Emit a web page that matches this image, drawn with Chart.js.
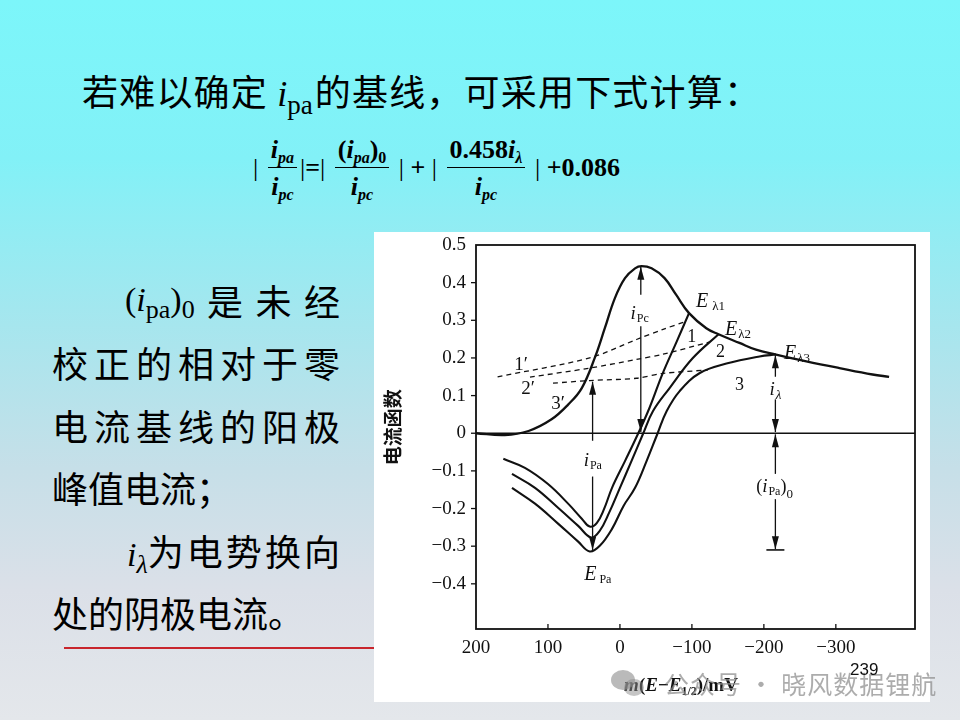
<!DOCTYPE html>
<html><head><meta charset="utf-8">
<script src="https://cdn.jsdelivr.net/npm/chart.js@4.4.1/dist/chart.umd.min.js"></script>
<style>
html,body{margin:0;padding:0;}
#slide{position:relative;width:960px;height:720px;overflow:hidden;
 background:linear-gradient(to bottom,#7cf6fa 0%,#82f1f7 22%,#a6e6ee 45%,#c6dfe8 65%,#dbe0e8 82%,#e4e7eb 100%);
 font-family:"Noto Sans CJK SC","Noto Sans",sans-serif;color:#000;}
.serif{font-family:"Liberation Serif","DejaVu Serif",serif;}
.title{position:absolute;left:82px;top:70px;font-size:36px;line-height:40px;letter-spacing:1.2px;white-space:nowrap;}
.title .iv{font-family:"Liberation Serif",serif;font-style:italic;font-size:36px;letter-spacing:0;}
.title .sb{font-family:"Liberation Serif",serif;font-size:27px;position:relative;top:8px;letter-spacing:0;margin-right:2px;}
#formula{position:absolute;left:253px;top:131px;height:74px;display:flex;align-items:center;
 font-family:"Liberation Serif",serif;font-weight:bold;font-size:26px;white-space:nowrap;}
#formula .frac{display:inline-flex;flex-direction:column;align-items:center;margin:0 3px;}
#formula .num{padding:0 3px 2px 3px;border-bottom:1.6px solid #000;line-height:31px;}
#formula .den{padding-top:3px;line-height:31px;}
#formula i{font-style:italic;}
#formula sub{font-size:16px;font-style:italic;vertical-align:-5px;line-height:0;}
#formula sub.n{font-style:normal;}
#formula .vb{font-weight:normal;}
.ln{position:absolute;left:52px;width:288px;font-size:36px;line-height:44px;white-space:nowrap;display:flex;justify-content:space-between;}
.ln.nj{justify-content:flex-start;}
.ln .s{font-family:"Liberation Serif",serif;font-size:34px;}
.ln .s i{font-style:italic;}
.ln .s .sb{font-size:26px;position:relative;top:7px;}
#redline{position:absolute;left:64px;top:647px;width:310px;height:1.6px;background:#c8252c;}
#chartbox{position:absolute;left:374px;top:232px;width:556px;height:470px;background:#fff;}
#wm{position:absolute;left:0;top:0;width:960px;height:720px;pointer-events:none;}
#wm .ic1{position:absolute;left:611px;top:670px;width:24px;height:20px;border-radius:50%;background:rgba(140,140,140,0.6);}
#wm .ic2{position:absolute;left:624px;top:679px;width:20px;height:17px;border-radius:50%;background:rgba(140,140,140,0.5);}
#wm .tx{position:absolute;left:664px;top:667px;font-size:25px;line-height:32px;color:rgba(140,140,140,0.72);white-space:nowrap;letter-spacing:1px;}
#pg{position:absolute;left:850px;top:660px;font-family:"Liberation Sans",Arial,sans-serif;font-size:17px;line-height:20px;color:#111;}
</style></head>
<body>
<div id="slide">
 <div class="title">若难以确定 <span class="iv">i</span><span class="sb">pa</span>的基线，可采用下式计算：</div>
 <div id="formula">
  <span class="vb">|&nbsp;</span>
  <span class="frac"><span class="num"><i>i</i><sub>pa</sub></span><span class="den"><i>i</i><sub>pc</sub></span></span>
  <span><span class="vb">|</span>=<span class="vb">|</span>&nbsp;</span>
  <span class="frac"><span class="num">(<i>i</i><sub>pa</sub>)<sub class="n">0</sub></span><span class="den"><i>i</i><sub>pc</sub></span></span>
  <span>&nbsp;<span class="vb">|</span> + <span class="vb">|</span>&nbsp;</span>
  <span class="frac"><span class="num">0.458<i>i</i><sub>λ</sub></span><span class="den"><i>i</i><sub>pc</sub></span></span>
  <span>&nbsp;<span class="vb">|</span> +0.086</span>
 </div>

 <div class="ln" style="top:278px;padding-left:73px;width:215px;"><span class="s">(<i>i</i><span class="sb">pa</span>)<span class="sb">0</span></span><span>是</span><span>未</span><span>经</span></div>
 <div class="ln" style="top:340px;"><span>校</span><span>正</span><span>的</span><span>相</span><span>对</span><span>于</span><span>零</span></div>
 <div class="ln" style="top:403px;"><span>电</span><span>流</span><span>基</span><span>线</span><span>的</span><span>阳</span><span>极</span></div>
 <div class="ln nj" style="top:465px;"><span>峰值电流；</span></div>
 <div class="ln" style="top:528px;padding-left:75px;width:213px;"><span><span class="s"><i>i</i><span class="sb"><i>λ</i></span></span>为</span><span>电</span><span>势</span><span>换</span><span>向</span></div>
 <div class="ln nj" style="top:590px;"><span>处的阴极电流。</span></div>
 <div id="redline"></div>

 <div id="chartbox"><canvas id="c" width="556" height="470"></canvas></div>
 <div id="wm"><div class="ic1"></div><div class="ic2"></div><div class="tx">公众号 · 晓风数据锂航</div></div>
 <div id="pg">239</div>
</div>
<script>
// ---- tick values ----
const xTicks = [200, 100, 0, -100, -200, -300];
const yTicks = [0.5, 0.4, 0.3, 0.2, 0.1, 0, -0.1, -0.2, -0.3, -0.4];

// ---- cathodic (forward) curve ----
const mainE = [200, 160, 127, 95, 72, 53, 35, 21, 7, -7, -21, -30, -44, -62, -78, -96, -120, -137, -166, -189, -217, -259, -305, -351, -374];
const mainI = [0, -0.005, 0.006, 0.037, 0.076, 0.12, 0.2, 0.279, 0.359, 0.412, 0.438, 0.444, 0.438, 0.412, 0.368, 0.319, 0.279, 0.263, 0.24, 0.222, 0.209, 0.191, 0.173, 0.156, 0.15];

// ---- anodic (reverse) curves 1,2,3 ----
const rev1E = [162, 132, 100, 72, 53, 42, 32, 22, 11, -7, -25, -41, -59, -79, -96];
const rev1I = [-0.068, -0.092, -0.135, -0.187, -0.227, -0.248, -0.238, -0.201, -0.145, -0.074, -0.002, 0.067, 0.157, 0.244, 0.319];
const rev2E = [150, 118, 86, 58, 40, 28, 15, 0, -16, -32, -46, -69, -101, -137];
const rev2I = [-0.108, -0.145, -0.198, -0.246, -0.277, -0.259, -0.211, -0.145, -0.074, -0.002, 0.059, 0.12, 0.199, 0.263];
const rev3E = [150, 118, 86, 58, 42, 28, 11, -5, -21, -37, -52, -65, -83, -111, -148, -194, -217];
const rev3I = [-0.145, -0.187, -0.24, -0.288, -0.314, -0.299, -0.254, -0.193, -0.145, -0.074, -0.002, 0.059, 0.112, 0.16, 0.185, 0.204, 0.209];

// ---- extrapolated baselines 1',2',3' ----
const base1E = [170, 42, -23, -60, -90];
const base1I = [0.15, 0.2, 0.249, 0.276, 0.296];
const base2E = [125, 42, -23, -60, -124];
const base2I = [0.149, 0.173, 0.196, 0.21, 0.242];
const base3E = [93, 42, -23, -60, -122];
const base3I = [0.133, 0.14, 0.146, 0.159, 0.168];

const pts = (E, I) => E.map((e, k) => ({x: e, y: I[k]}));
const fmtY = v => v === 0 ? '0' : (v < 0 ? '\u2212' + (-v).toFixed(1) : v.toFixed(1));
const fmtX = v => v < 0 ? '\u2212' + (-v) : String(v);

const INK = '#111';
const solid = (d, w) => ({data: d, showLine: true, borderColor: INK, borderWidth: w, pointRadius: 0, tension: 0.4, fill: false});
const dashed = d => ({data: d, showLine: true, borderColor: INK, borderWidth: 1.3, borderDash: [5, 4], pointRadius: 0, tension: 0.3, fill: false});

const SERIF = '"Liberation Serif", "DejaVu Serif", serif';
function rich(ctx, parts, cx, by) {
  let w = 0;
  parts.forEach(p => { ctx.font = p.f; p.w = ctx.measureText(p.t).width; w += p.w + (p.g || 0); });
  let x = cx - w / 2;
  ctx.textBaseline = 'alphabetic'; ctx.textAlign = 'left';
  parts.forEach(p => { ctx.font = p.f; ctx.fillText(p.t, x, by + (p.dy || 0)); x += p.w + (p.g || 0); });
}
const I18 = 'italic 19px ' + SERIF, I20 = 'italic 20px ' + SERIF, S12 = '12px ' + SERIF, S13 = '13px ' + SERIF, N18 = '18px ' + SERIF;

const overlay = {
  id: 'overlay',
  afterDatasetsDraw(chart) {
    const {ctx, chartArea: a, scales: {x, y}} = chart;
    ctx.save();
    ctx.strokeStyle = INK; ctx.fillStyle = INK;
    // frame
    ctx.lineWidth = 1.8;
    ctx.strokeRect(a.left, a.top, a.right - a.left, a.bottom - a.top);
    // zero line
    ctx.lineWidth = 1.5;
    ctx.beginPath(); ctx.moveTo(a.left, y.getPixelForValue(0)); ctx.lineTo(a.right, y.getPixelForValue(0)); ctx.stroke();
    // ticks
    ctx.lineWidth = 1.3;
    xTicks.slice(1).forEach(v => { const px = x.getPixelForValue(v); ctx.beginPath(); ctx.moveTo(px, a.bottom); ctx.lineTo(px, a.bottom - 5); ctx.stroke(); });
    yTicks.slice(1).forEach(v => { const py = y.getPixelForValue(v); ctx.beginPath(); ctx.moveTo(a.left - 5, py); ctx.lineTo(a.left, py); ctx.stroke(); });

    // arrows
    const arrow = (xv, y1, y2, head) => {
      const px = x.getPixelForValue(xv), p1 = y.getPixelForValue(y1), p2 = y.getPixelForValue(y2);
      ctx.lineWidth = 1.3;
      ctx.beginPath(); ctx.moveTo(px, p1); ctx.lineTo(px, p2); ctx.stroke();
      if (head) {
        const dir = p2 > p1 ? 1 : -1;
        ctx.beginPath(); ctx.moveTo(px, p2); ctx.lineTo(px - 3.5, p2 - dir * 13); ctx.lineTo(px + 3.5, p2 - dir * 13); ctx.closePath(); ctx.fill();
      }
    };
    // i_Pc
    arrow(-29, 0.368, 0.442, true);
    arrow(-29, 0.284, 0.003, true);
    // i_Pa
    arrow(38, -0.02, 0.137, true);
    arrow(38, -0.115, -0.31, true);
    // i_lambda
    arrow(-216, 0.15, 0.207, true);
    arrow(-216, 0.09, 0.003, true);
    // (i_Pa)_0
    arrow(-216, -0.108, -0.003, true);
    arrow(-216, -0.175, -0.308, true);
    ctx.lineWidth = 1.6;
    const bx = x.getPixelForValue(-216), by = y.getPixelForValue(-0.31);
    ctx.beginPath(); ctx.moveTo(bx - 9, by); ctx.lineTo(bx + 9, by); ctx.stroke();

    // labels
    const L = (xv, yv, parts) => rich(ctx, parts, x.getPixelForValue(xv), y.getPixelForValue(yv) + 6);
    L(-27.5, 0.32, [{t: 'i', f: I18, g: 1}, {t: 'Pc', f: S12, dy: 3}]);
    L(37.7, -0.071, [{t: 'i', f: I18, g: 1}, {t: 'Pa', f: S12, dy: 3}]);
    L(30.8, -0.373, [{t: 'E', f: I20, g: 3}, {t: 'Pa', f: S12, dy: 3}]);
    L(-214.8, -0.14, [{t: '(', f: N18}, {t: 'i', f: I18, g: 1}, {t: 'Pa', f: S12, dy: 3}, {t: ')', f: N18}, {t: '0', f: S13, dy: 6}]);
    L(-216, 0.117, [{t: 'i', f: I18, g: 1}, {t: 'λ', f: 'italic 13px ' + SERIF, dy: 4}]);
    L(-126, 0.35, [{t: 'E', f: I20, g: 4}, {t: 'λ1', f: S13, dy: 3}]);
    L(-164, 0.278, [{t: 'E', f: I20, g: 1}, {t: 'λ2', f: S13, dy: 3}]);
    L(-246, 0.212, [{t: 'E', f: I20, g: 1}, {t: 'λ3', f: S13, dy: 3}]);
    L(-99.7, 0.257, [{t: '1', f: N18}]);
    L(-139.9, 0.218, [{t: '2', f: N18}]);
    L(-166.2, 0.13, [{t: '3', f: N18}]);
    L(137.3, 0.183, [{t: '1\u2032', f: '19px ' + SERIF}]);
    L(127.6, 0.12, [{t: '2\u2032', f: '19px ' + SERIF}]);
    L(86, 0.08, [{t: '3\u2032', f: '19px ' + SERIF}]);

    // y-axis title
    ctx.save();
    ctx.translate(19, y.getPixelForValue(0) - 6);
    ctx.rotate(-Math.PI / 2);
    ctx.font = '600 19px "Noto Sans CJK SC", sans-serif';
    ctx.textAlign = 'center'; ctx.textBaseline = 'middle';
    ctx.fillText('电流函数', 0, 0);
    ctx.restore();
    // x-axis title
    rich(ctx, [{t: 'm', f: 'italic bold 19px ' + SERIF}, {t: '(', f: 'bold 19px ' + SERIF}, {t: 'E', f: 'italic bold 19px ' + SERIF},
               {t: '\u2212', f: 'bold 19px ' + SERIF}, {t: 'E', f: 'italic bold 19px ' + SERIF}, {t: '1/2', f: 'bold 12px ' + SERIF, dy: 4},
               {t: ')/mV', f: 'bold 19px ' + SERIF}], 307, 459);
    ctx.restore();
  }
};

new Chart(document.getElementById('c'), {
  type: 'scatter',
  data: {
    datasets: [
      solid(pts(mainE, mainI), 2.3),
      solid(pts(rev1E, rev1I), 2.1),
      solid(pts(rev2E, rev2I), 2.1),
      solid(pts(rev3E, rev3I), 2.1),
      dashed(pts(base1E, base1I)),
      dashed(pts(base2E, base2I)),
      dashed(pts(base3E, base3I))
    ]
  },
  options: {
    responsive: false, animation: false,
    layout: {padding: {top: 13, right: 15, left: 0, bottom: 0}},
    plugins: {legend: {display: false}, tooltip: {enabled: false}},
    scales: {
      x: {
        type: 'linear', reverse: true, min: -410, max: 200,
        afterBuildTicks: s => { s.ticks = xTicks.map(v => ({value: v})); },
        afterFit: s => { s.height = 73; s.paddingLeft = 0; s.paddingRight = 0; },
        grid: {display: false, drawTicks: false}, border: {display: false},
        ticks: {padding: 8, color: INK, font: {family: SERIF, size: 19}, callback: v => fmtX(v), maxRotation: 0, autoSkip: false}
      },
      y: {
        type: 'linear', min: -0.52, max: 0.5,
        afterBuildTicks: s => { s.ticks = yTicks.map(v => ({value: v})); },
        afterFit: s => { s.width = 102; s.paddingTop = 0; s.paddingBottom = 0; },
        grid: {display: false, drawTicks: false}, border: {display: false},
        ticks: {padding: 10, color: INK, font: {family: SERIF, size: 19}, callback: v => fmtY(v), autoSkip: false}
      }
    }
  },
  plugins: [overlay]
});
</script>
</body></html>
